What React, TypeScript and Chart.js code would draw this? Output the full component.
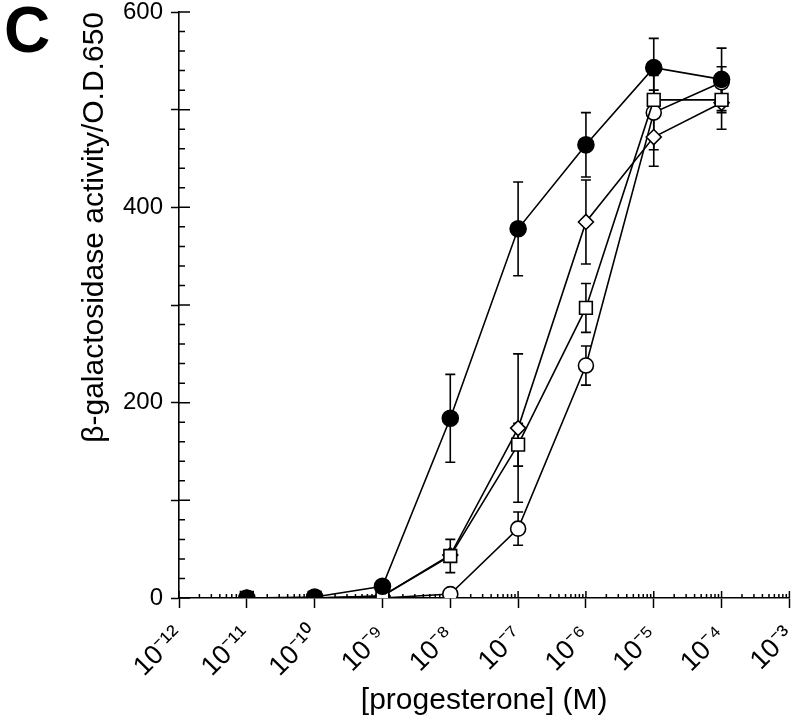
import React, { useEffect, useRef } from 'react';
import { Chart, registerables } from 'chart.js';

Chart.register(...registerables);

// ---- data ----
const concentrations = [1e-11, 1e-10, 1e-9, 1e-8, 1e-7, 1e-6, 1e-5, 1e-4];

const filledCircle = [0, 1, 12, 184, 378, 464, 543, 531];
const filledCircleErr = [0, 0, 0, 45, 48, 33, 30, 32];

const openSquare = [0, 0, 2, 43, 157, 297, 510, 510];
const openSquareErr = [0, 0, 0, 17, 22, 25, 10, 13];

const openDiamond = [0, 0, 2, 44, 174, 385, 472, 507];
const openDiamondErr = [0, 0, 0, 0, 76, 43, 30, 27];

const openCircle = [0, 0, 0, 4, 71, 238, 497, 528];
const openCircleErr = [0, 0, 0, 0, 17, 20, 38, 16];

const xDecades = [1e-12, 1e-11, 1e-10, 1e-9, 1e-8, 1e-7, 1e-6, 1e-5, 1e-4, 1e-3];
const xTickLabels = ['10⁻¹²', '10⁻¹¹', '10⁻¹⁰', '10⁻⁹', '10⁻⁸', '10⁻⁷', '10⁻⁶', '10⁻⁵', '10⁻⁴', '10⁻³'];
const xMinorMultipliers = [2, 3, 4, 5, 6, 7, 8, 9];

const yMin = 0;
const yMax = 600;
const yMinorStep = 20;
const yMajorStep = 100;
const yLabelStep = 200;

const xTitle = '[progesterone] (M)';
const yTitle = 'β-galactosidase activity/O.D.650';
const panelLetter = 'C';

const FONT = '"Liberation Sans", Arial, Helvetica, sans-serif';

function decadeIndex(v: number): number {
  for (let i = 0; i < xDecades.length; i++) {
    if (Math.abs(v - xDecades[i]) <= xDecades[i] * 1e-6) return i;
  }
  return -1;
}

const toPoints = (vals: number[]) => vals.map((y, i) => ({ x: concentrations[i], y }));

const errorBarPlugin = {
  id: 'errorBars',
  beforeDatasetsDraw(chart: any) {
    const { ctx } = chart;
    const xs = chart.scales.x;
    const ys = chart.scales.y;
    ctx.save();
    ctx.strokeStyle = '#000';
    ctx.lineWidth = 1.6;
    chart.data.datasets.forEach((ds: any) => {
      const errs: number[] = ds.errors || [];
      ds.data.forEach((pt: any, j: number) => {
        const e = errs[j];
        if (!e) return;
        const px = xs.getPixelForValue(pt.x);
        const pTop = ys.getPixelForValue(pt.y + e);
        const pBot = ys.getPixelForValue(Math.max(pt.y - e, 0));
        const cap = 5;
        ctx.beginPath();
        ctx.moveTo(px, pTop);
        ctx.lineTo(px, pBot);
        ctx.moveTo(px - cap, pTop);
        ctx.lineTo(px + cap, pTop);
        ctx.moveTo(px - cap, pBot);
        ctx.lineTo(px + cap, pBot);
        ctx.stroke();
      });
    });
    ctx.restore();
  },
};

const innerTickPlugin = {
  id: 'innerTicks',
  beforeDatasetsDraw(chart: any) {
    const { ctx, chartArea } = chart;
    const xs = chart.scales.x;
    const ys = chart.scales.y;
    ctx.save();
    ctx.strokeStyle = '#000';
    ctx.lineWidth = 1.5;
    ctx.beginPath();
    ys.ticks.forEach((t: any) => {
      const py = ys.getPixelForValue(t.value);
      const len = t.value % yMajorStep === 0 ? 11 : 6;
      ctx.moveTo(chartArea.left, py);
      ctx.lineTo(chartArea.left + len, py);
    });
    xs.ticks.forEach((t: any) => {
      const px = xs.getPixelForValue(t.value);
      const len = decadeIndex(t.value) >= 0 ? 7 : 4;
      ctx.moveTo(px, chartArea.bottom);
      ctx.lineTo(px, chartArea.bottom - len);
    });
    ctx.stroke();
    ctx.restore();
  },
};

export default function App() {
  const canvasRef = useRef<HTMLCanvasElement | null>(null);

  useEffect(() => {
    document.body.style.margin = '0';
    const canvas = canvasRef.current;
    if (!canvas) return;

    const common = {
      borderColor: '#000',
      borderWidth: 1.6,
      pointBorderColor: '#000',
      pointBorderWidth: 1.6,
      tension: 0,
      fill: false,
    };

    const chart = new Chart(canvas, {
      type: 'line',
      data: {
        datasets: [
          {
            ...common,
            label: 'filled circle',
            data: toPoints(filledCircle),
            errors: filledCircleErr,
            pointStyle: 'circle',
            pointRadius: 8,
            pointBackgroundColor: '#000',
          } as any,
          {
            ...common,
            label: 'open square',
            data: toPoints(openSquare),
            errors: openSquareErr,
            pointStyle: 'rect',
            pointRadius: 9,
            pointBackgroundColor: '#fff',
          } as any,
          {
            ...common,
            label: 'open diamond',
            data: toPoints(openDiamond),
            errors: openDiamondErr,
            pointStyle: 'rectRot',
            pointRadius: 7.5,
            pointBackgroundColor: '#fff',
          } as any,
          {
            ...common,
            label: 'open circle',
            data: toPoints(openCircle),
            errors: openCircleErr,
            pointStyle: 'circle',
            pointRadius: 7.5,
            pointBackgroundColor: '#fff',
          } as any,
        ],
      },
      options: {
        responsive: false,
        animation: false,
        devicePixelRatio: 1,
        layout: { padding: { top: 12, right: 4, left: 0, bottom: 0 } },
        plugins: {
          legend: { display: false },
          tooltip: { enabled: false },
        },
        scales: {
          x: {
            type: 'logarithmic',
            position: 'bottom',
            min: xDecades[0],
            max: xDecades[xDecades.length - 1],
            afterBuildTicks: (scale: any) => {
              const ticks: any[] = [];
              xDecades.forEach((d, i) => {
                ticks.push({ value: d });
                if (i < xDecades.length - 1) {
                  xMinorMultipliers.forEach((m) => ticks.push({ value: m * d }));
                }
              });
              scale.ticks = ticks;
            },
            afterFit: (scale: any) => {
              scale.height = 127;
              scale.paddingLeft = 0;
              scale.paddingRight = 0;
            },
            border: { display: true, color: '#000', width: 1.6 },
            grid: {
              drawOnChartArea: false,
              drawTicks: true,
              tickLength: 10,
              tickWidth: 1.5,
              tickColor: (c: any) =>
                c.tick && decadeIndex(c.tick.value) >= 0 ? '#000' : 'rgba(0,0,0,0)',
            },
            ticks: {
              autoSkip: false,
              maxRotation: 45,
              minRotation: 45,
              padding: 12,
              color: '#000',
              font: { size: 27, family: FONT },
              callback: (v: any) => {
                const i = decadeIndex(Number(v));
                return i >= 0 ? xTickLabels[i] : '';
              },
            },
            title: {
              display: true,
              text: xTitle,
              color: '#000',
              font: { size: 30, family: FONT },
              padding: { top: 0, bottom: 6 },
            },
          },
          y: {
            type: 'linear',
            min: yMin,
            max: yMax,
            afterFit: (scale: any) => {
              scale.width = 179;
              scale.paddingTop = 0;
              scale.paddingBottom = 0;
            },
            border: { display: true, color: '#000', width: 1.6 },
            grid: {
              drawOnChartArea: false,
              drawTicks: true,
              tickLength: 8,
              tickWidth: 1.5,
              tickColor: (c: any) =>
                c.tick && c.tick.value % yMajorStep === 0 ? '#000' : 'rgba(0,0,0,0)',
            },
            ticks: {
              stepSize: yMinorStep,
              autoSkip: false,
              padding: 8,
              color: '#000',
              font: { size: 24, family: FONT },
              callback: (v: any) => (Number(v) % yLabelStep === 0 ? String(v) : ''),
            },
            title: {
              display: true,
              text: yTitle,
              align: 'end',
              color: '#000',
              font: { size: 30, family: FONT },
              padding: { top: 77, bottom: 0 },
            },
          },
        },
      } as any,
      plugins: [errorBarPlugin, innerTickPlugin],
    });

    return () => chart.destroy();
  }, []);

  return (
    <div style={{ position: 'relative', width: 800, height: 725, background: '#fff' }}>
      <canvas ref={canvasRef} width={800} height={725} style={{ display: 'block' }} />
      <div
        style={{
          position: 'absolute',
          left: 4,
          top: -2,
          fontFamily: FONT,
          fontWeight: 'bold',
          fontSize: 64,
          lineHeight: '64px',
          color: '#000',
        }}
      >
        {panelLetter}
      </div>
    </div>
  );
}
